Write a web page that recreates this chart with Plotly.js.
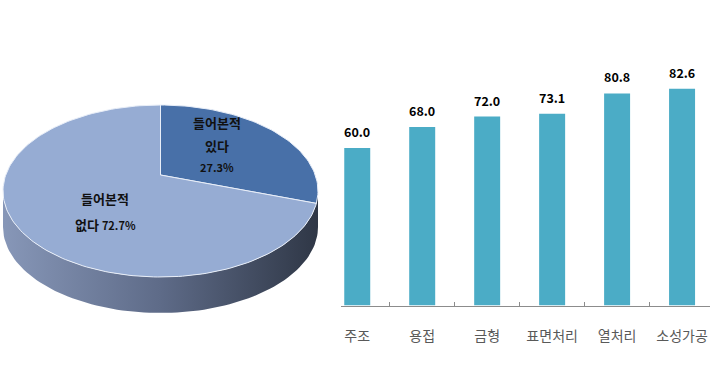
<!DOCTYPE html>
<html><head><meta charset="utf-8">
<script src="https://cdn.plot.ly/plotly-3.0.1.min.js"></script>
<style>html,body{margin:0;padding:0;background:#fff}</style>
</head><body><div id="chart" style="width:710px;height:387px"></div>
<script>
// ---- data ----
const pieLabels = ['들어본적 있다', '들어본적 없다'];
const pieValues = [27.3, 72.7];
const pieColors = ['#4870a8', '#96acd3'];
const barCategories = ['주조', '용접', '금형', '표면처리', '열처리', '소성가공'];
const barValues = [60.0, 68.0, 72.0, 73.1, 80.8, 82.6];

// ---- pie geometry (style constants) ----
const cx = 160.5, cy = 191, ra = 157.5, rb = 86, depth = 36, apexDy = -16;
const deg = Math.PI / 180;
function ept(tDeg, dy) {
  const t = tDeg * deg;
  return [cx + ra * Math.sin(t), cy - rb * Math.cos(t) + (dy || 0)];
}
const total = pieValues.reduce((a, b) => a + b, 0);
const traces = [];

// side wall (front half)
{
  const xs = [], ys = [];
  for (let t = 90; t <= 270; t += 2) { const p = ept(t); xs.push(p[0]); ys.push(p[1]); }
  for (let t = 270; t >= 90; t -= 2) { const p = ept(t, depth); xs.push(p[0]); ys.push(p[1]); }
  traces.push({
    x: xs, y: ys, xaxis: 'x2', yaxis: 'y2', type: 'scatter', mode: 'lines',
    fill: 'toself', line: {width: 0, color: 'rgba(0,0,0,0)'},
    fillgradient: {type: 'horizontal', colorscale: [[0, '#8797b8'], [0.5, '#5e6b88'], [1, '#2f3746']]},
    hoverinfo: 'skip', showlegend: false
  });
}
// top slices
let cum = 0;
pieValues.forEach((v, i) => {
  const t0 = cum / total * 360, t1 = (cum + v) / total * 360;
  cum += v;
  const xs = [cx], ys = [cy + apexDy];
  const n = Math.max(4, Math.round((t1 - t0) / 1.5));
  for (let k = 0; k <= n; k++) {
    const p = ept(t0 + (t1 - t0) * k / n); xs.push(p[0]); ys.push(p[1]);
  }
  xs.push(cx); ys.push(cy + apexDy);
  traces.push({
    x: xs, y: ys, xaxis: 'x2', yaxis: 'y2', type: 'scatter', mode: 'lines',
    fill: 'toself', fillcolor: pieColors[i], line: {width: 1, color: '#e8eef8'},
    name: pieLabels[i], hoverinfo: 'skip', showlegend: false
  });
});

// bars
traces.push({
  type: 'bar', x: barCategories, y: barValues, marker: {color: '#4bacc6'},
  hoverinfo: 'x+y', showlegend: false
});

// bar value labels
const barLabelFont = {family: 'Noto Sans CJK KR', size: 12.5, color: '#000', weight: 'bold'};
const barAnnotations = barCategories.map((c, i) => ({
  x: c, y: barValues[i], xref: 'x', yref: 'y', text: barValues[i].toFixed(1),
  showarrow: false, xanchor: 'center', yanchor: 'bottom', yshift: 5, font: barLabelFont
}));

// pie labels
const pieText = pieValues.map((v, i) => {
  const parts = pieLabels[i].split(' ');
  return {first: parts[0], second: parts[1], pct: v.toFixed(1) + '%'};
});
const korFont = {family: 'Noto Sans CJK KR', size: 13, color: '#111', weight: 700};
const pctFont = {family: 'Noto Sans CJK KR', size: 11, color: '#111', weight: 'bold'};
const pieAnnotations = [
  {x: 217, y: 122, text: pieText[0].first, font: korFont},
  {x: 217, y: 145, text: pieText[0].second, font: korFont},
  {x: 217, y: 167, text: pieText[0].pct, font: pctFont},
  {x: 105, y: 198, text: pieText[1].first, font: korFont},
  {x: 105, y: 224, text: pieText[1].second + ' <span style="font-size:11px">' + pieText[1].pct + '</span>', font: korFont}
].map(a => Object.assign({xref: 'x2', yref: 'y2', showarrow: false, xanchor: 'center', yanchor: 'middle'}, a));

const layout = {
  width: 710, height: 387,
  margin: {l: 0, r: 0, t: 0, b: 0},
  paper_bgcolor: '#fff', plot_bgcolor: 'rgba(0,0,0,0)',
  bargap: 0.6,
  font: {family: 'Noto Sans CJK KR'},
  xaxis: {
    type: 'category', domain: [341 / 710, 1], range: [-0.25, 5.43],
    showline: true, linecolor: '#8c8c8c', linewidth: 1,
    ticks: 'inside', ticklen: 4, tickcolor: '#8c8c8c', tickson: 'boundaries',
    tickfont: {family: 'Noto Sans CJK KR', size: 14, color: '#595959'},
    ticklabelstandoff: 18, showgrid: false, zeroline: false, fixedrange: true
  },
  yaxis: {
    domain: [(387 - 305.6) / 387, (387 - 43) / 387], range: [0, 100],
    visible: false, showgrid: false, zeroline: false, fixedrange: true
  },
  xaxis2: {domain: [0, 333.7 / 710], range: [0, 333.7], visible: false, anchor: 'y2'},
  yaxis2: {domain: [0, 1], range: [387, 0], visible: false, anchor: 'x2'},
  annotations: barAnnotations.concat(pieAnnotations)
};
Plotly.newPlot('chart', traces, layout, {displayModeBar: false, staticPlot: true});
</script></body></html>
